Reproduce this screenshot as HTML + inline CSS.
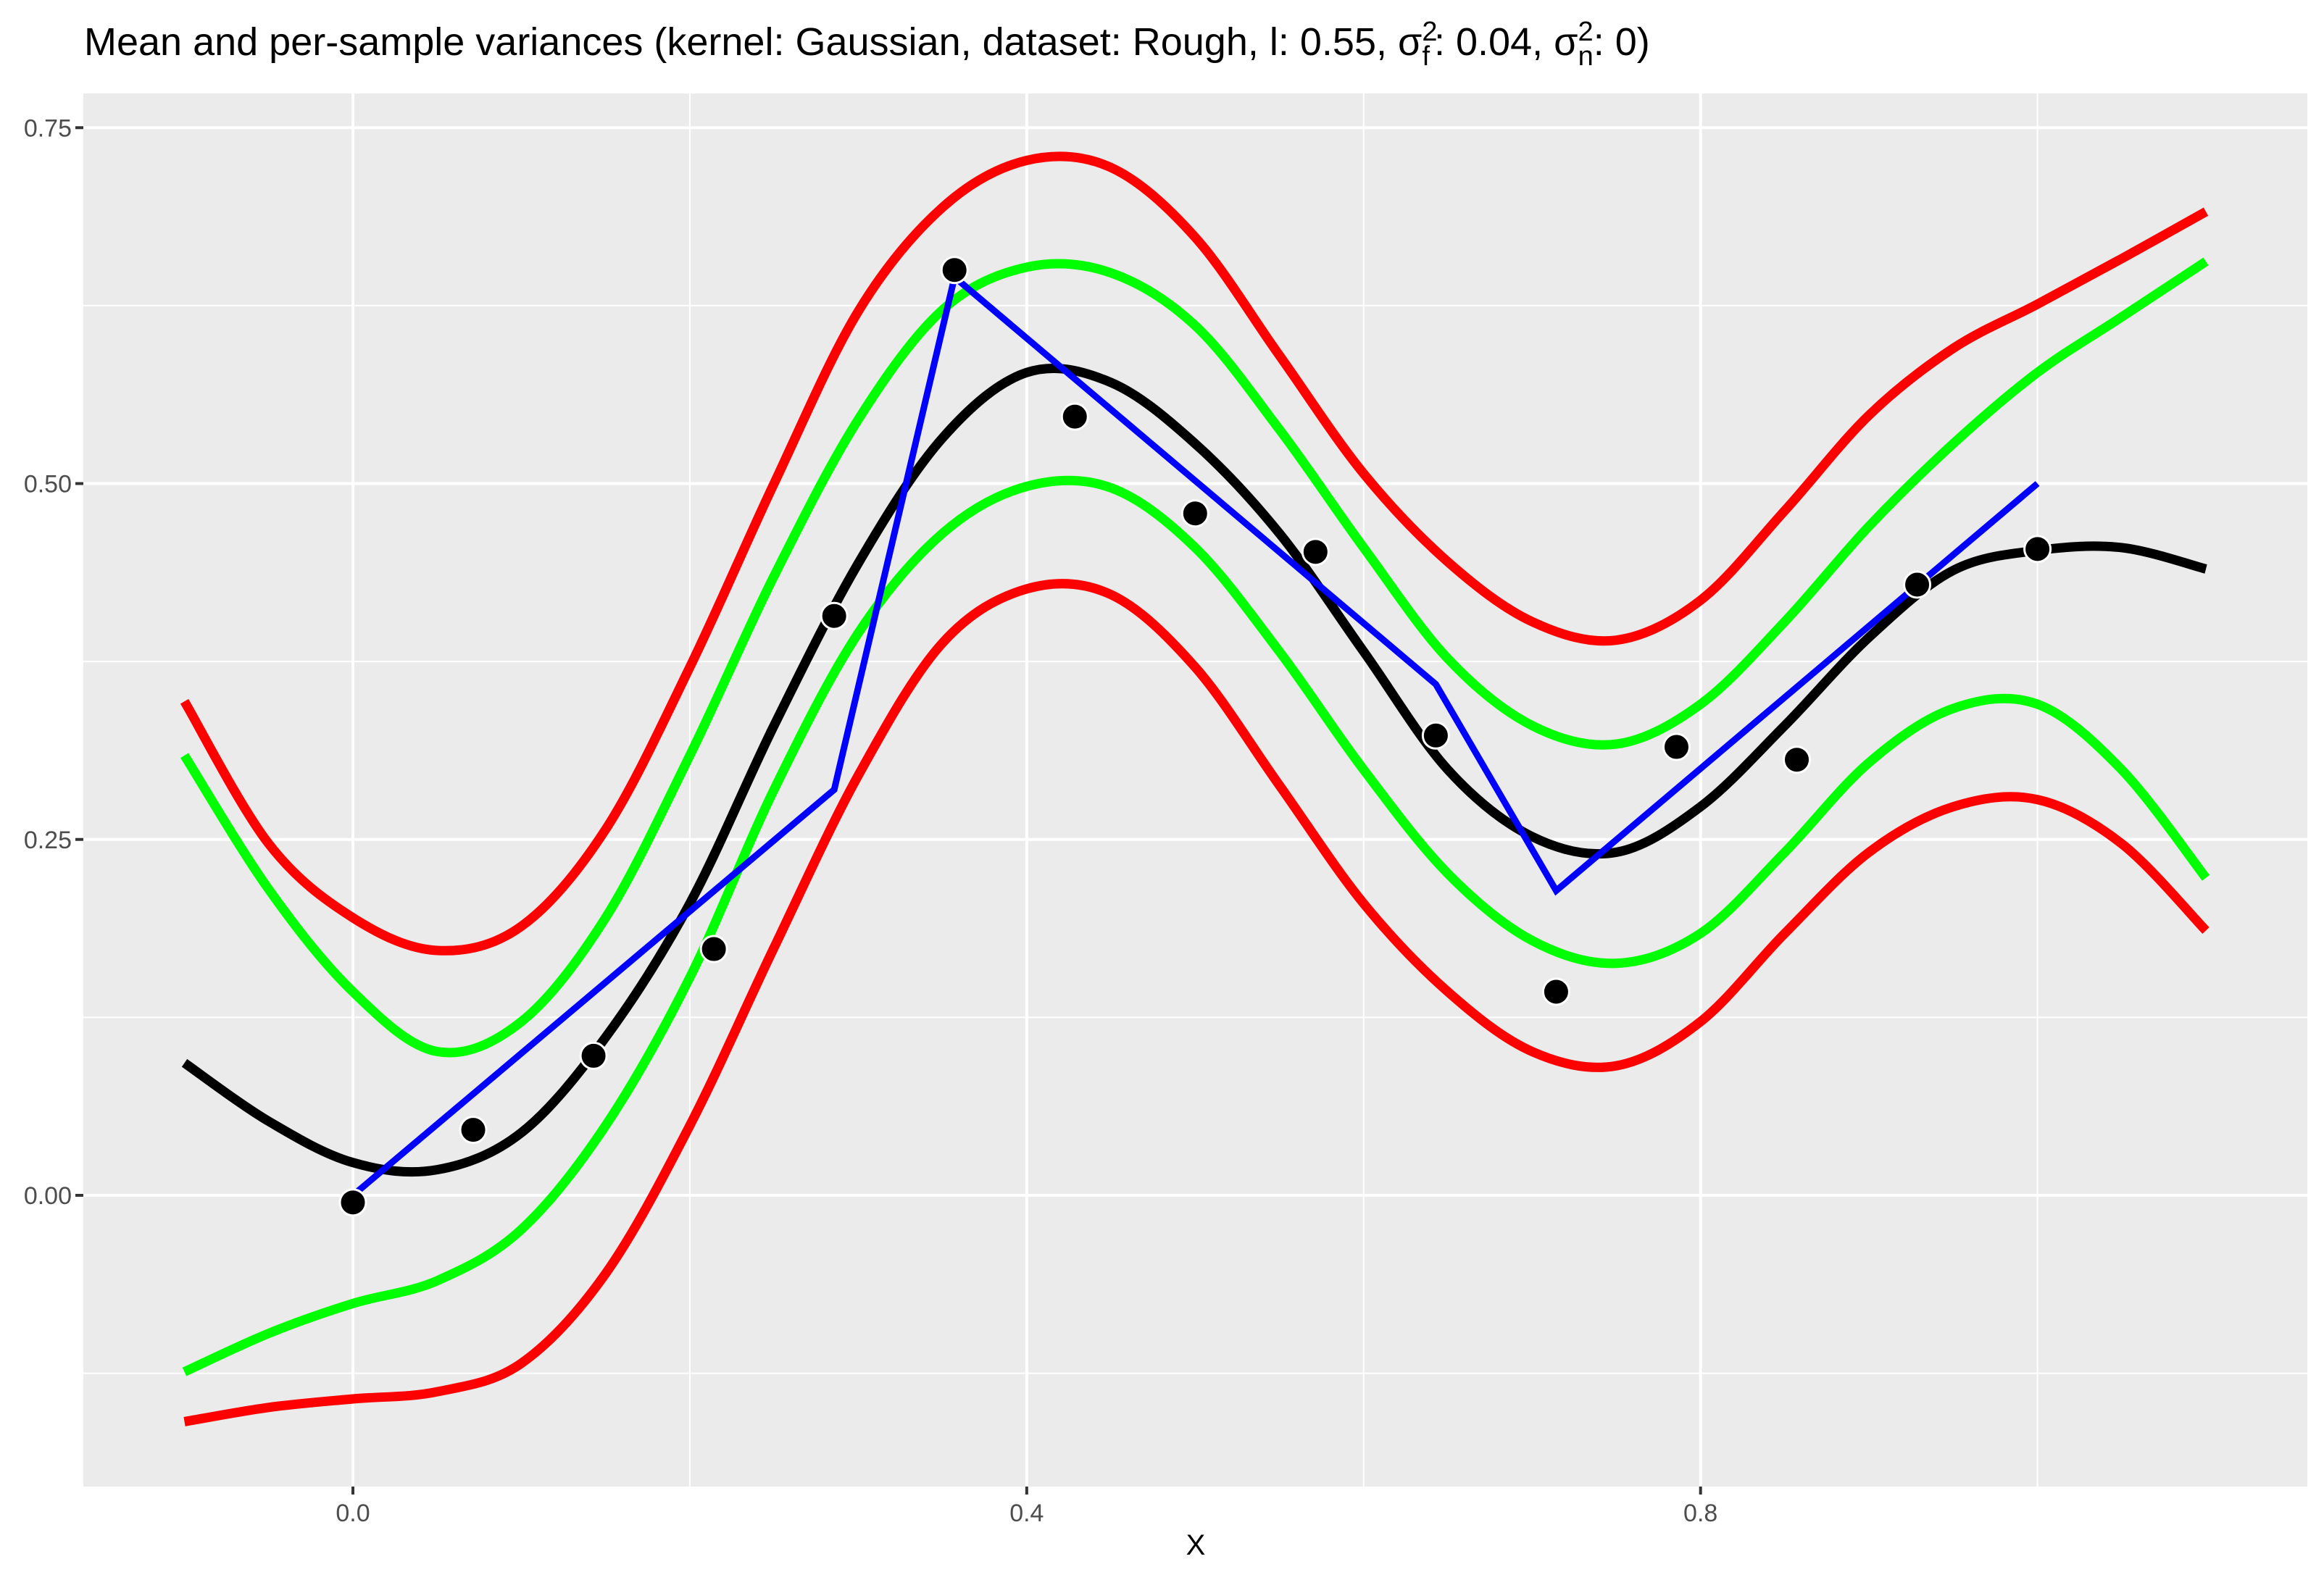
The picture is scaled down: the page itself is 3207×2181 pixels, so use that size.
<!DOCTYPE html>
<html><head><meta charset="utf-8"><style>
html,body{margin:0;padding:0;background:#fff;}
svg{display:block;font-family:"Liberation Sans",Arial,sans-serif;}
</style></head><body>
<svg id="chart" width="3207" height="2181" viewBox="0 0 3207 2181">
<rect width="3207" height="2181" fill="#fff"/>
<text x="116" y="76" font-size="54" fill="#000">Mean and per-sample variances (kernel: Gaussian, dataset: Rough, l: 0.55, σ<tspan font-size="38" dy="-20">2</tspan><tspan font-size="38" dx="-21" dy="34">f</tspan><tspan dy="-14" dx="6">: 0.04, σ</tspan><tspan font-size="38" dy="-20">2</tspan><tspan font-size="38" dx="-21" dy="34">n</tspan><tspan dy="-14">: 0)</tspan></text>
<rect x="115" y="129" width="3069" height="1923" fill="#ebebeb"/>
<g id="grid"></g>
<g id="series"></g>
<g id="axes"></g>
<text x="1650" y="2146" font-size="40" text-anchor="middle" fill="#000">X</text>
</svg>
<script>
const xTicks=[0,0.4,0.8];
const xTickLabels=["0.0","0.4","0.8"];
const xMinor=[-0.2,0.2,0.6,1.0];
const yTicks=[0,0.25,0.5,0.75];
const yTickLabels=["0.00","0.25","0.50","0.75"];
const yMinor=[-0.125,0.125,0.375,0.625];
const curveX=[-0.1,-0.05,0,0.05,0.1,0.15,0.2,0.25,0.3,0.35,0.4,0.45,0.5,0.55,0.6,0.65,0.7,0.75,0.8,0.85,0.9,0.95,1.0,1.05,1.1];
const meanY=[0.093,0.052,0.023,0.018,0.044,0.111,0.205,0.33,0.444,0.532,0.578,0.571,0.528,0.465,0.382,0.299,0.252,0.241,0.273,0.33,0.392,0.439,0.453,0.455,0.44];
const upperGreen=[0.309,0.215,0.143,0.101,0.122,0.195,0.309,0.435,0.545,0.622,0.652,0.648,0.611,0.538,0.455,0.377,0.33,0.317,0.345,0.403,0.47,0.528,0.578,0.617,0.656];
const lowerGreen=[-0.124,-0.097,-0.076,-0.06,-0.024,0.049,0.153,0.285,0.395,0.465,0.498,0.497,0.455,0.382,0.299,0.226,0.179,0.163,0.184,0.241,0.304,0.342,0.345,0.299,0.223];
const upperRed=[0.347,0.247,0.195,0.172,0.189,0.257,0.371,0.5,0.621,0.694,0.727,0.722,0.673,0.59,0.507,0.445,0.403,0.39,0.418,0.481,0.548,0.595,0.626,0.658,0.691];
const lowerRed=[-0.159,-0.149,-0.143,-0.138,-0.118,-0.055,0.049,0.174,0.295,0.388,0.426,0.422,0.371,0.288,0.205,0.143,0.101,0.091,0.122,0.184,0.241,0.273,0.278,0.247,0.186];
const blueX=[0,4/14,5/14,9/14,10/14,1];
const blueY=[0,0.285,0.645,0.359,0.214,0.5];
const pointX=[0,1/14,2/14,3/14,4/14,5/14,6/14,7/14,8/14,9/14,10/14,11/14,12/14,13/14,1];
const pointY=[-0.005,0.046,0.098,0.173,0.407,0.650,0.547,0.479,0.452,0.323,0.143,0.315,0.306,0.429,0.454];

const NS="http://www.w3.org/2000/svg";
const PL=115,PR=3184,PT=129,PB=2052;
function sx(v){return 487+2324.6*v;}
function sy(v){return 1650-1965*v;}
function mk(tag,attrs,parent){const e=document.createElementNS(NS,tag);for(const k in attrs)e.setAttribute(k,attrs[k]);parent.appendChild(e);return e;}
const grid=document.getElementById('grid'),axes=document.getElementById('axes'),series=document.getElementById('series');
xMinor.forEach(v=>{const x=sx(v);if(x<PL||x>PR)return;const l=mk('line',{x1:x,x2:x,y1:PT,y2:PB,stroke:'#fff','stroke-width':2},grid);

});
yMinor.forEach(v=>{const y=sy(v);const l=mk('line',{x1:PL,x2:PR,y1:y,y2:y,stroke:'#fff','stroke-width':2},grid);

});
xTicks.forEach((v,i)=>{const x=sx(v);const l=mk('line',{x1:x,x2:x,y1:PT,y2:PB,stroke:'#fff','stroke-width':4},grid);


const t=mk('line',{x1:x,x2:x,y1:PB,y2:PB+11,stroke:'#333','stroke-width':4},axes);


const tx=mk('text',{x:x,y:PB+48,'font-size':34,'text-anchor':'middle',fill:'#4d4d4d'},axes);tx.textContent=xTickLabels[i];

});
yTicks.forEach((v,i)=>{const y=sy(v);const l=mk('line',{x1:PL,x2:PR,y1:y,y2:y,stroke:'#fff','stroke-width':4},grid);


const t=mk('line',{x1:PL-11,x2:PL,y1:y,y2:y,stroke:'#333','stroke-width':4},axes);


const tx=mk('text',{x:PL-16,y:y+12,'font-size':34,'text-anchor':'end',fill:'#4d4d4d'},axes);tx.textContent=yTickLabels[i];

});
function smoothPath(xs,ys){const p=xs.map((x,i)=>[sx(x),sy(ys[i])]);let d='M'+p[0][0]+','+p[0][1];
for(let i=0;i<p.length-1;i++){const p0=p[i-1]||p[i],p1=p[i],p2=p[i+1],p3=p[i+2]||p2;
const c1=[p1[0]+(p2[0]-p0[0])/6,p1[1]+(p2[1]-p0[1])/6],c2=[p2[0]-(p3[0]-p1[0])/6,p2[1]-(p3[1]-p1[1])/6];
d+=' C'+c1[0]+','+c1[1]+' '+c2[0]+','+c2[1]+' '+p2[0]+','+p2[1];}return d;}
[[upperRed,'#ff0000','upper-red-band'],[lowerRed,'#ff0000','lower-red-band'],[upperGreen,'#00ff00','upper-green-band'],[lowerGreen,'#00ff00','lower-green-band'],[meanY,'#000000','mean-line']].forEach(s=>{
const p=mk('path',{d:smoothPath(curveX,s[0]),fill:'none',stroke:s[1],'stroke-width':13},series);

});
const bl=mk('polyline',{points:blueX.map((x,i)=>sx(x)+','+sy(blueY[i])).join(' '),fill:'none',stroke:'#0000ff','stroke-width':9},series);


pointX.forEach((x,i)=>{const c=mk('circle',{cx:sx(x),cy:sy(pointY[i]),r:18,fill:'#000',stroke:'#fff','stroke-width':3},series);

});
</script>
</body></html>
